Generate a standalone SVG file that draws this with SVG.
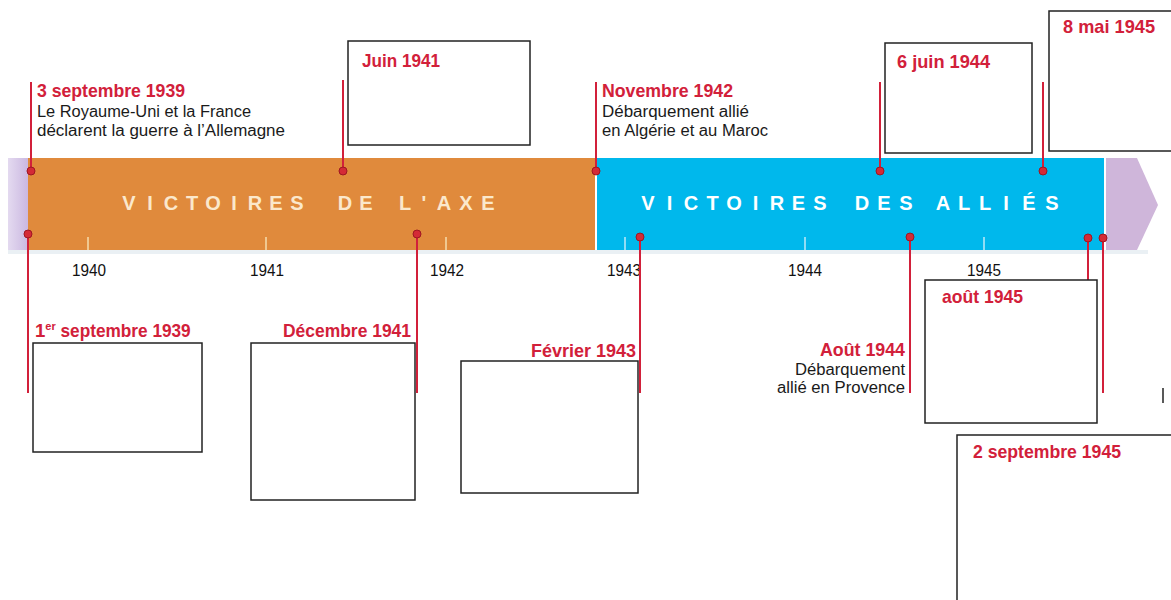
<svg xmlns="http://www.w3.org/2000/svg" width="1171" height="600" viewBox="0 0 1171 600">
<style>
  .date { font-family: "Liberation Sans", Arial, sans-serif; font-weight: bold; font-size: 18.5px; fill: #d2203a; }
  .desc { font-family: "Liberation Sans", Arial, sans-serif; font-size: 16px; fill: #1a1a1a; }
  .year { font-family: "Liberation Sans", Arial, sans-serif; font-size: 17px; fill: #111; text-anchor: middle; }
  .band { font-family: "Liberation Sans", Arial, sans-serif; font-weight: bold; font-size: 20px; text-anchor: middle; }
  .box { fill: #fff; stroke: #222; stroke-width: 1.5; }
  .conn { stroke: #d2203a; stroke-width: 2; fill: none; }
  .dot { fill: #d42a36; stroke: #9e1622; stroke-width: 1; }
  .tickO { stroke: #f6dcae; stroke-width: 1.5; }
  .tickB { stroke: #bfeaf8; stroke-width: 1.5; }
</style>
<defs>
  <linearGradient id="lstrip" x1="0" y1="0" x2="1" y2="0">
    <stop offset="0" stop-color="#e4daf0"/>
    <stop offset="1" stop-color="#c9b6e0"/>
  </linearGradient>
</defs>
<rect width="1171" height="600" fill="#fff"/>

<!-- timeline band -->
<g id="band">
  <rect x="8" y="250" width="1140" height="4" fill="#eaf0f4"/>
  <rect x="8" y="158" width="21" height="92" fill="url(#lstrip)"/>
  <rect x="28" y="158" width="567" height="92" fill="#e08a3c"/>
  <rect x="597" y="158" width="507" height="92" fill="#00b8ec"/>
  <polygon points="1106,158 1137,158 1158,205 1137,250 1106,250" fill="#cfb6da"/>
  <text class="band" fill="#fbe8cc" x="129 150 171 192 213 234 255 276 297 345 366 405 424 444 466 488" y="210">VICTOIRESDEL'AXE</text>
  <text class="band" fill="#ffffff" x="648 669.5 691 712.5 734 755.5 777 798.5 820 862 884 906 943 964 985 1006 1029 1052" y="210">VICTOIRESDESALLIÉS</text>
  <line class="tickO" x1="88" y1="237" x2="88" y2="250"/>
  <line class="tickO" x1="266" y1="237" x2="266" y2="250"/>
  <line class="tickO" x1="446" y1="237" x2="446" y2="250"/>
  <line class="tickB" x1="625" y1="237" x2="625" y2="250"/>
  <line class="tickB" x1="805" y1="237" x2="805" y2="250"/>
  <line class="tickB" x1="984" y1="237" x2="984" y2="250"/>
  <text class="year" x="89" y="276" textLength="34" lengthAdjust="spacingAndGlyphs">1940</text>
  <text class="year" x="267" y="276" textLength="34" lengthAdjust="spacingAndGlyphs">1941</text>
  <text class="year" x="447" y="276" textLength="34" lengthAdjust="spacingAndGlyphs">1942</text>
  <text class="year" x="624" y="276" textLength="34" lengthAdjust="spacingAndGlyphs">1943</text>
  <text class="year" x="805" y="276" textLength="34" lengthAdjust="spacingAndGlyphs">1944</text>
  <text class="year" x="984" y="276" textLength="34" lengthAdjust="spacingAndGlyphs">1945</text>
</g>

<!-- connectors -->
<g id="connectors">
  <line class="conn" x1="31" y1="82" x2="31" y2="171"/>
  <line class="conn" x1="343" y1="80" x2="343" y2="171"/>
  <line class="conn" x1="596" y1="82" x2="596" y2="171"/>
  <line class="conn" x1="880" y1="82" x2="880" y2="171"/>
  <line class="conn" x1="1043" y1="82" x2="1043" y2="171"/>
  <line class="conn" x1="28" y1="234" x2="28" y2="393"/>
  <line class="conn" x1="417" y1="234" x2="417" y2="393"/>
  <line class="conn" x1="640" y1="237" x2="640" y2="393"/>
  <line class="conn" x1="910" y1="237" x2="910" y2="393"/>
  <line class="conn" x1="1088" y1="238" x2="1088" y2="282"/>
  <line class="conn" x1="1103" y1="238" x2="1103" y2="393"/>
  <circle class="dot" cx="31" cy="171" r="4"/>
  <circle class="dot" cx="343" cy="171" r="4"/>
  <circle class="dot" cx="596" cy="171" r="4"/>
  <circle class="dot" cx="880" cy="171" r="4"/>
  <circle class="dot" cx="1043" cy="171" r="4"/>
  <circle class="dot" cx="28" cy="234" r="4"/>
  <circle class="dot" cx="417" cy="234" r="4"/>
  <circle class="dot" cx="640" cy="237" r="4"/>
  <circle class="dot" cx="910" cy="237" r="4"/>
  <circle class="dot" cx="1088" cy="238" r="4"/>
  <circle class="dot" cx="1103" cy="238" r="4"/>
</g>

<!-- events above -->
<g id="ev-sept1939">
  <text class="date" x="37" y="97" textLength="148" lengthAdjust="spacingAndGlyphs">3 septembre 1939</text>
  <text class="desc" x="37" y="117" textLength="214" lengthAdjust="spacingAndGlyphs">Le Royaume-Uni et la France</text>
  <text class="desc" x="37" y="136" textLength="248" lengthAdjust="spacingAndGlyphs">déclarent la guerre à l’Allemagne</text>
</g>
<g id="ev-juin1941">
  <rect class="box" x="348" y="41" width="182" height="104"/>
  <text class="date" x="362" y="67" textLength="78" lengthAdjust="spacingAndGlyphs">Juin 1941</text>
</g>
<g id="ev-nov1942">
  <text class="date" x="602" y="97" textLength="131" lengthAdjust="spacingAndGlyphs">Novembre 1942</text>
  <text class="desc" x="602" y="117" textLength="147" lengthAdjust="spacingAndGlyphs">Débarquement allié</text>
  <text class="desc" x="602" y="136" textLength="166" lengthAdjust="spacingAndGlyphs">en Algérie et au Maroc</text>
</g>
<g id="ev-juin1944">
  <rect class="box" x="885" y="43" width="147" height="110"/>
  <text class="date" x="897" y="68" textLength="93" lengthAdjust="spacingAndGlyphs">6 juin 1944</text>
</g>
<g id="ev-mai1945">
  <rect class="box" x="1049" y="11" width="130" height="140"/>
  <text class="date" x="1063" y="33" textLength="92" lengthAdjust="spacingAndGlyphs">8 mai 1945</text>
</g>

<!-- events below -->
<g id="ev-1sept1939">
  <text class="date" x="35" y="337">1<tspan font-size="11" dy="-7">er</tspan><tspan dy="7" textLength="135" lengthAdjust="spacingAndGlyphs"> septembre 1939</tspan></text>
  <rect class="box" x="33" y="343" width="169" height="109"/>
</g>
<g id="ev-dec1941">
  <text class="date" x="411" y="337" text-anchor="end" textLength="128" lengthAdjust="spacingAndGlyphs">Décembre 1941</text>
  <rect class="box" x="251" y="343" width="164" height="157"/>
</g>
<g id="ev-fev1943">
  <text class="date" x="636" y="357" text-anchor="end" textLength="105" lengthAdjust="spacingAndGlyphs">Février 1943</text>
  <rect class="box" x="461" y="361" width="177" height="132"/>
</g>
<g id="ev-aout1944">
  <text class="date" x="905" y="356" text-anchor="end" textLength="85" lengthAdjust="spacingAndGlyphs">Août 1944</text>
  <text class="desc" x="905" y="375" text-anchor="end" textLength="110" lengthAdjust="spacingAndGlyphs">Débarquement</text>
  <text class="desc" x="905" y="393" text-anchor="end" textLength="128" lengthAdjust="spacingAndGlyphs">allié en Provence</text>
</g>
<g id="ev-aout1945">
  <rect class="box" x="925" y="280" width="172" height="143"/>
  <text class="date" x="942" y="303" textLength="81" lengthAdjust="spacingAndGlyphs">août 1945</text>
</g>
<g id="ev-sept1945">
  <rect class="box" x="957" y="435" width="222" height="175"/>
  <text class="date" x="973" y="458" textLength="148" lengthAdjust="spacingAndGlyphs">2 septembre 1945</text>
</g>
<line x1="1163" y1="388" x2="1163" y2="403" stroke="#222" stroke-width="1.5"/>
</svg>
